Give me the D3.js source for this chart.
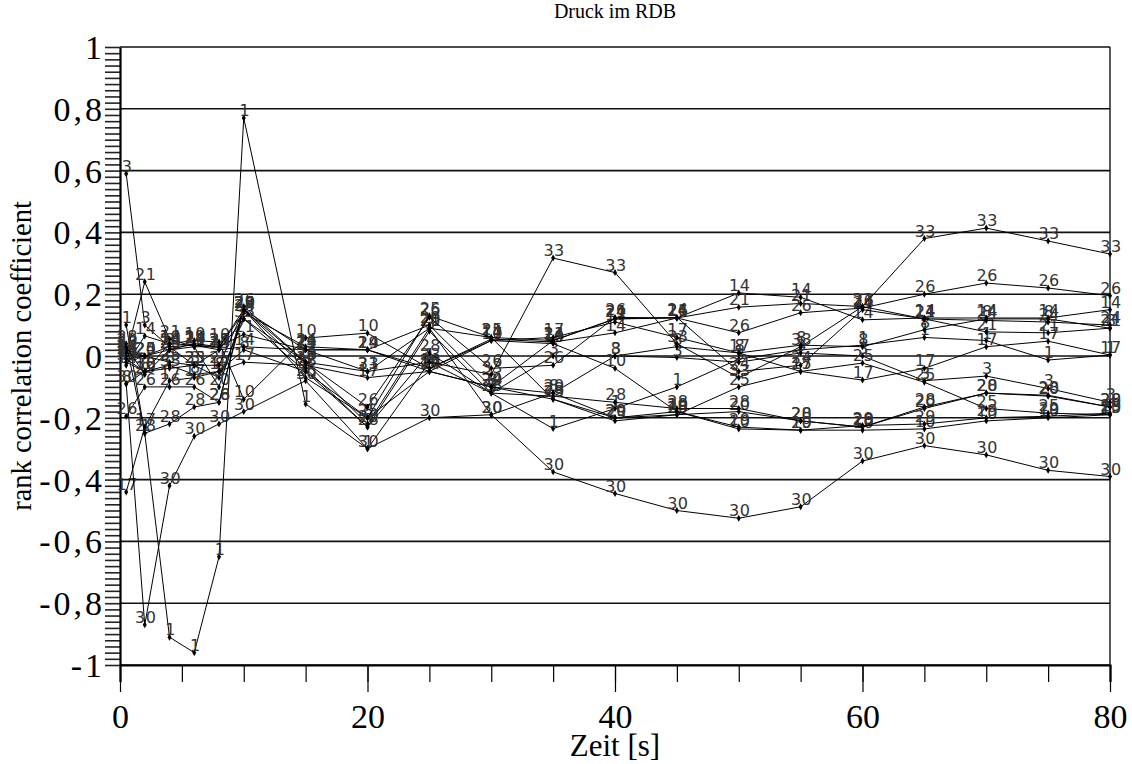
<!DOCTYPE html>
<html>
<head>
<meta charset="utf-8">
<script src="https://cdn.jsdelivr.net/npm/d3@7"></script>
<style>
  html, body { margin: 0; padding: 0; background: #fff; }
  svg { display: block; }
  .serif { font-family: "Liberation Serif", "Times New Roman", serif; fill: #000; }
  .lbl { font-family: "DejaVu Sans", sans-serif; font-size: 16px; fill: #333; letter-spacing: 0.5px; }
</style>
</head>
<body>
<svg id="chart" width="1132" height="764"></svg>
<script>
// Sample times [s]
const times = [0.5, 2, 4, 6, 8, 10, 15, 20, 25, 30, 35, 40, 45, 50, 55, 60, 65, 70, 75, 80];

// Rank correlation per sensor, one value per sample time
const s1  = [0.10, -0.25, -0.91, -0.96, -0.65, 0.77, -0.155, -0.30, -0.02, -0.12, -0.235, -0.17, -0.10, -0.01, 0.02, 0.035, 0.06, 0.05, -0.013, 0.003];
const s3  = [0.59, 0.10, 0.03, -0.03, -0.07, 0.12, -0.05, -0.23, 0.08, -0.12, 0.00, 0.00, -0.005, -0.02, 0.01, 0.00, -0.08, -0.065, -0.105, -0.15];
const s8  = [-0.09, -0.05, -0.03, -0.06, -0.05, 0.02, -0.05, -0.20, -0.05, -0.10, -0.12, 0.00, 0.03, 0.01, 0.035, 0.03, 0.085, 0.12, 0.12, 0.09];
const s10 = [-0.01, -0.05, 0.04, 0.05, 0.045, -0.14, 0.058, 0.074, -0.04, 0.05, 0.04, -0.04, -0.18, -0.236, -0.24, -0.24, -0.236, -0.21, -0.20, -0.19];
const s14 = [-0.03, 0.065, 0.04, 0.035, 0.02, 0.03, 0.02, 0.02, -0.04, 0.055, 0.045, 0.075, 0.123, 0.204, 0.19, 0.117, 0.123, 0.123, 0.123, 0.15];
const s17 = [-0.44, -0.23, -0.08, -0.07, -0.05, -0.02, -0.03, -0.07, -0.05, 0.05, 0.06, 0.11, 0.06, 0.01, -0.05, -0.078, -0.04, 0.03, 0.048, 0.003];
const s20 = [0.02, 0.00, 0.02, 0.03, -0.10, 0.15, -0.02, -0.22, 0.09, -0.19, -0.12, -0.20, -0.19, -0.18, -0.21, -0.23, -0.17, -0.12, -0.13, -0.165];
const s21 = [0.00, 0.24, 0.055, 0.03, 0.03, 0.07, 0.02, -0.05, 0.09, 0.06, 0.05, 0.12, 0.123, 0.158, 0.17, 0.16, 0.12, 0.078, 0.075, 0.09];
const s24 = [0.01, 0.00, 0.03, 0.035, 0.03, 0.14, 0.03, 0.02, -0.05, -0.10, 0.05, 0.12, 0.125, -0.05, -0.03, 0.15, 0.12, 0.115, 0.11, 0.10];
const s25 = [-0.01, 0.00, -0.02, -0.03, -0.03, 0.15, -0.07, -0.20, 0.13, 0.06, -0.14, -0.21, -0.19, -0.10, -0.05, -0.023, -0.085, -0.17, -0.185, -0.19];
const s26 = [-0.195, -0.10, -0.10, -0.10, -0.15, 0.16, -0.02, -0.165, 0.125, -0.04, -0.03, 0.125, 0.123, 0.075, 0.14, 0.155, 0.20, 0.236, 0.22, 0.195];
const s28 = [0.04, -0.25, -0.22, -0.165, -0.15, 0.15, -0.04, -0.23, 0.01, -0.12, -0.13, -0.15, -0.17, -0.17, -0.21, -0.23, -0.165, -0.12, -0.127, -0.165];
const s29 = [0.03, -0.06, 0.02, 0.04, 0.03, 0.15, 0.02, 0.02, 0.10, -0.10, -0.14, -0.20, -0.18, -0.23, -0.24, -0.225, -0.22, -0.20, -0.195, -0.185];
const s30 = [-0.09, -0.87, -0.42, -0.26, -0.22, -0.18, -0.08, -0.30, -0.20, -0.19, -0.375, -0.445, -0.50, -0.525, -0.488, -0.34, -0.29, -0.32, -0.37, -0.39];
const s33 = [-0.02, -0.05, -0.04, -0.03, 0.02, 0.12, -0.02, -0.05, -0.02, -0.06, 0.317, 0.27, 0.04, -0.07, 0.03, 0.16, 0.38, 0.414, 0.372, 0.33];

const seriesNames = ["1", "3", "8", "10", "14", "17", "20", "21", "24", "25", "26", "28", "29", "30", "33"];
const seriesValues = [s1, s3, s8, s10, s14, s17, s20, s21, s24, s25, s26, s28, s29, s30, s33];

const yMajorTicks = [-1, -0.8, -0.6, -0.4, -0.2, 0, 0.2, 0.4, 0.6, 0.8, 1];
const xMajorTicks = [0, 20, 40, 60, 80];

const svg = d3.select("#chart");
const x = d3.scaleLinear().domain([0, 80]).range([120, 1110]);
const y = d3.scaleLinear().domain([-1, 1]).range([665, 47]);

// German decimal comma, plain hyphen for negatives
const fmt = v => String(+v.toFixed(1)).replace(".", ",");

// Horizontal grid
svg.append("g")
  .selectAll("line")
  .data(yMajorTicks)
  .join("line")
  .attr("x1", x(0)).attr("x2", x(80))
  .attr("y1", d => y(d)).attr("y2", d => y(d))
  .attr("stroke", "#111").attr("stroke-width", 1.6);

// Right frame
svg.append("line")
  .attr("x1", x(80)).attr("x2", x(80))
  .attr("y1", y(1)).attr("y2", y(-1))
  .attr("stroke", "#000").attr("stroke-width", 1.3);

// Y minor ticks
const yMinor = d3.range(-1, 1.0001, 0.02);
svg.append("g")
  .attr("transform", `translate(${x(0)},0)`)
  .call(d3.axisLeft(y).tickValues(yMinor).tickSize(15).tickFormat(""))
  .call(g => g.select(".domain").remove())
  .call(g => g.selectAll("line").attr("stroke", "#222").attr("stroke-width", 1.6));

// Y axis with major labels
svg.append("g")
  .attr("transform", `translate(${x(0)},0)`)
  .call(d3.axisLeft(y).tickValues(yMajorTicks).tickSize(0).tickPadding(15).tickFormat(fmt))
  .call(g => g.select(".domain").attr("stroke", "#000").attr("stroke-width", 2.2))
  .call(g => g.selectAll("text").attr("class", "serif").attr("font-size", 34)
    .attr("letter-spacing", "3px").attr("dy", "0.34em"));

// X axis: minor ticks every 5 s, major every 20 s
svg.append("g")
  .attr("transform", `translate(0,${y(-1)})`)
  .call(d3.axisBottom(x).tickValues(d3.range(0, 81, 5)).tickSize(17).tickFormat(""))
  .call(g => g.select(".domain").attr("stroke", "#000").attr("stroke-width", 2.2))
  .call(g => g.selectAll("line").attr("stroke", "#000").attr("stroke-width", 1.2));

svg.append("g")
  .attr("transform", `translate(0,${y(-1)})`)
  .call(d3.axisBottom(x).tickValues(xMajorTicks).tickSize(27).tickPadding(12).tickFormat(d3.format("d")))
  .call(g => g.select(".domain").remove())
  .call(g => g.selectAll("line").attr("stroke", "#000").attr("stroke-width", 1.2))
  .call(g => g.selectAll("text").attr("class", "serif").attr("font-size", 34));

// Titles
svg.append("text").attr("class", "serif")
  .attr("x", 615).attr("y", 18).attr("text-anchor", "middle").attr("font-size", 20)
  .text("Druck im RDB");
svg.append("text").attr("class", "serif")
  .attr("x", 615).attr("y", 756).attr("text-anchor", "middle").attr("font-size", 31)
  .text("Zeit [s]");
svg.append("text").attr("class", "serif")
  .attr("transform", `translate(31,${y(0)}) rotate(-90)`)
  .attr("text-anchor", "middle").attr("font-size", 28.5)
  .text("rank correlation coefficient");

// Series lines, markers and labels
const line = d3.line().x((d, i) => x(times[i])).y(d => y(d));
const seriesG = svg.append("g");
seriesNames.forEach((name, k) => {
  const vals = seriesValues[k];
  const g = seriesG.append("g");
  g.append("path").attr("d", line(vals))
    .attr("fill", "none").attr("stroke", "#000").attr("stroke-width", 1);
  g.selectAll("path.m").data(vals).join("path").attr("class", "m")
    .attr("transform", (d, i) => `translate(${x(times[i])},${y(d)})`)
    .attr("d", d3.symbol(d3.symbolDiamond, 14))
    .attr("fill", "#000");
  g.selectAll("text").data(vals).join("text").attr("class", "lbl")
    .attr("x", (d, i) => x(times[i]) + 1)
    .attr("y", d => y(d) - 2)
    .attr("text-anchor", "middle")
    .text(name);
});
</script>
</body>
</html>
